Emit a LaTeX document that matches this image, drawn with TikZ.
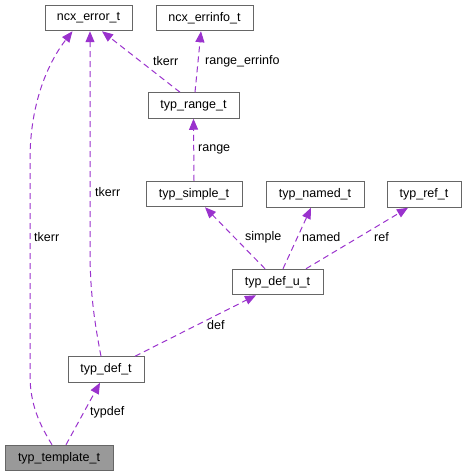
\documentclass[tikz,border=0pt]{standalone}
\usepackage{fontspec}
\setmainfont{Liberation Sans}
\usetikzlibrary{arrows.meta}
\definecolor{edgecol}{HTML}{9A32CD}
\definecolor{boxcol}{HTML}{666666}
\definecolor{hlfill}{HTML}{999999}
\begin{document}
\begin{tikzpicture}[x=1pt,y=-1pt,
  box/.style={draw=boxcol,line width=1pt,fill=white,minimum height=25.5pt,inner sep=0pt,font=\fontsize{12.5}{14}\selectfont},
  lbl/.style={anchor=west,inner sep=0pt,font=\fontsize{12.5}{14}\selectfont},
  rel/.style={draw=edgecol,line width=1pt,dash pattern=on 6pt off 4pt,-{Triangle[length=11pt,width=9pt,fill=edgecol]}}]
\useasboundingbox (0,0) rectangle (467,476);
\node[box,minimum width=87pt] (err) at (88.5,18) {ncx\_error\_t};
\node[box,minimum width=97pt] (errinfo) at (204.5,18) {ncx\_errinfo\_t};
\node[box,minimum width=91pt] (range) at (193.5,105.5) {typ\_range\_t};
\node[box,minimum width=96pt] (simple) at (194,194) {typ\_simple\_t};
\node[box,minimum width=98pt] (named) at (315,194.5) {typ\_named\_t};
\node[box,minimum width=74pt] (ref) at (424,194.5) {typ\_ref\_t};
\node[box,minimum width=91pt] (defu) at (277.5,282) {typ\_def\_u\_t};
\node[box,minimum width=76pt] (def) at (106,369.5) {typ\_def\_t};
\node[box,minimum width=108pt,fill=hlfill] (tmpl) at (59,458) {typ\_template\_t};
% edges
\draw[rel] ([xshift=-7pt]tmpl.north) .. controls (40,425) and (30,405) .. (30,375) -- (30,160) .. controls (30,100) and (50,60) .. ([xshift=-16pt]err.south);
\draw[rel] ([xshift=-5pt]def.north) .. controls (94,320) and (90,290) .. (90,250) -- ([xshift=1.5pt]err.south);
\draw[rel] ([xshift=-13.5pt]range.north) -- ([xshift=13.5pt]err.south);
\draw[rel] ([xshift=1.5pt]range.north) -- ([xshift=-3.5pt]errinfo.south);
\draw[rel] (simple.north) -- (range.south);
\draw[rel] ([xshift=-12.5pt]defu.north) -- ([xshift=11pt]simple.south);
\draw[rel] ([xshift=5.5pt]defu.north) -- ([xshift=-4pt]named.south);
\draw[rel] ([xshift=28.5pt]defu.north) -- ([xshift=-16pt]ref.south);
\draw[rel] ([xshift=29pt]def.north) -- ([xshift=-21.5pt]defu.south);
\draw[rel] ([xshift=7pt]tmpl.north) -- ([xshift=-6pt]def.south);
% labels
\node[lbl] (l1) at (34,237) {tkerr};
\node[lbl] (l2) at (95,192) {tkerr};
\node[lbl] (l3) at (153,61) {tkerr};
\node[lbl] (l4) at (205,61) {range\_errinfo};
\node[lbl] (l5) at (198,149) {range};
\node[lbl] (l6) at (245,237) {simple};
\node[lbl] (l7) at (302,237) {named};
\node[lbl] (l8) at (374,237) {ref};
\node[lbl] (l9) at (207,325) {def};
\node[lbl] (l10) at (90,412) {typdef};
\end{tikzpicture}
\end{document}
